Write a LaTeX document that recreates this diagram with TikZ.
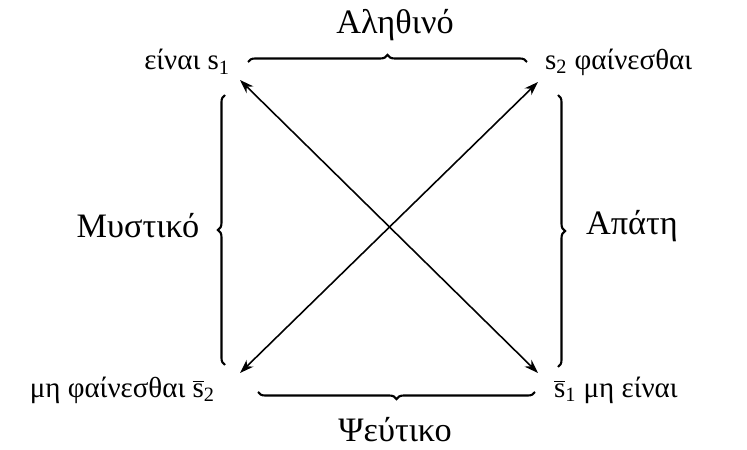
\documentclass[tikz,border=0pt]{standalone}
\usepackage{fontspec}
\setmainfont{Liberation Serif}
\usetikzlibrary{arrows.meta,decorations.pathreplacing}

\begin{document}
\begin{tikzpicture}[
  term/.style={font=\fontsize{16.5}{19}\selectfont, inner sep=1pt},
  side/.style={font=\fontsize{19.5}{22}\selectfont, inner sep=1pt},
  bracket/.style={decorate, decoration={brace, amplitude=4pt}, line width=1.2pt},
  arrow/.style={{Stealth[length=8pt,width=5.5pt]}-{Stealth[length=8pt,width=5.5pt]}, line width=0.9pt}
]
\useasboundingbox (0,0) rectangle (14.94,9);

% Corner terms
\node[term, anchor=east] (etre) at (4.64,7.76) {είναι s\textsubscript{1}};
\node[term, anchor=west] (paraitre) at (10.86,7.76) {s\textsubscript{2} φαίνεσθαι};
\node[term, anchor=east] (nonparaitre) at (4.34,1.2)
  {μη φαίνεσθαι $\overline{\mbox{s}}$\textsubscript{2}};
\node[term, anchor=west] (nonetre) at (11.04,1.2)
  {$\overline{\mbox{s}}$\textsubscript{1} μη είναι};

% Side labels
\node[side] (vrai) at (7.9,8.5) {Αληθινό};
\node[side] (faux) at (7.9,0.4) {Ψεύτικο};
\node[side] (secret) at (2.76,4.48) {Μυστικό};
\node[side] (mensonge) at (12.64,4.48) {Απάτη};

% Arrow ends
\coordinate (tl) at (4.8,7.4);
\coordinate (tr) at (10.76,7.36);
\coordinate (bl) at (4.8,1.54);
\coordinate (br) at (10.76,1.54);

% Brace ends
\coordinate (topA) at (4.96,7.76);
\coordinate (topB) at (10.54,7.76);
\coordinate (botA) at (10.7,1.16);
\coordinate (botB) at (5.16,1.16);
\coordinate (leftA) at (4.5,1.7);
\coordinate (leftB) at (4.5,7.1);
\coordinate (rightA) at (11.16,7.1);
\coordinate (rightB) at (11.16,1.66);

% Braces
\draw[bracket] (topA) -- (topB);
\draw[bracket] (botA) -- (botB);
\draw[bracket] (leftA) -- (leftB);
\draw[bracket] (rightA) -- (rightB);

% Diagonals
\draw[arrow] (tl) -- (br);
\draw[arrow] (tr) -- (bl);
\end{tikzpicture}
\end{document}
